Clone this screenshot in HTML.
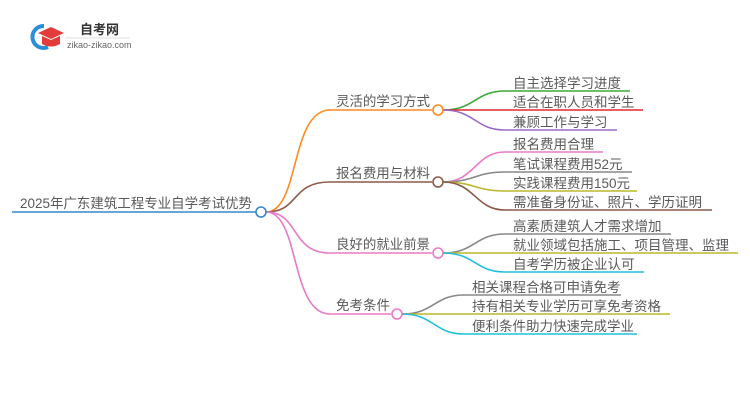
<!DOCTYPE html>
<html><head><meta charset="utf-8"><style>
html,body{margin:0;padding:0;background:#fff;width:750px;height:410px;overflow:hidden}
text{font-family:"Liberation Sans","Noto Sans CJK SC",sans-serif;font-size:13.5px;fill:#5a5a5a}
</style></head><body>
<svg width="750" height="410" viewBox="0 0 750 410" xmlns="http://www.w3.org/2000/svg">
<!-- logo -->
<path d="M44 26 A11 11 0 1 0 48 47" fill="none" stroke="#2a8fd8" stroke-width="4"/>
<polygon points="38,33 51,27 64,33 51,39" fill="#e23b3b"/>
<path d="M42 36 L42 44 Q51 49 60 44 L60 36 L51 40 Z" fill="#e23b3b"/>
<text x="80" y="34" style="font-size:13px;font-weight:bold;fill:#333">自考网</text>
<line x1="66" y1="38" x2="130" y2="38" stroke="#ddd"/>
<text x="67" y="48" style="font-size:9px;fill:#666">zikao-zikao.com</text>

<g fill="none" stroke-width="1.6">
<line x1="12" y1="212" x2="256" y2="212" stroke="#3a86c8"/>
<path d="M266 212 C300 212 290 110 330 110 L432 110" stroke="#ff8a1f"/>
<path d="M266 212 C300 212 290 182 330 182 L432 182" stroke="#8b5a4a"/>
<path d="M266 212 C300 212 290 253 330 253 L432 253" stroke="#e87ac8"/>
<path d="M266 212 C300 212 290 314 330 314 L391 314" stroke="#e87ac8"/>
<path d="M443 110 C475 110 475 91 505 91 L630 91" stroke="#3aaa35"/>
<path d="M443 110 L643 110" stroke="#e0282e"/>
<path d="M443 110 C475 110 475 130 505 130 L617 130" stroke="#9a6ac8"/>
<path d="M443 182 C475 182 475 152 505 152 L603 152" stroke="#e87ac8"/>
<path d="M443 182 C475 182 475 172 505 172 L632 172" stroke="#888"/>
<path d="M443 182 C475 182 475 191 505 191 L637 191" stroke="#b8b82a"/>
<path d="M443 182 C475 182 475 210 505 210 L712 210" stroke="#8b5a4a"/>
<path d="M443 253 C475 253 475 234 505 234 L671 234" stroke="#888"/>
<path d="M443 253 L738 253" stroke="#b8b82a"/>
<path d="M443 253 C475 253 475 272 505 272 L644 272" stroke="#1fc0d8"/>
<path d="M402 314 C434 314 434 295 464 295 L621 295" stroke="#888"/>
<path d="M402 314 L670 314" stroke="#b8b82a"/>
<path d="M402 314 C434 314 434 334 464 334 L637 334" stroke="#1fc0d8"/>
</g>
<g fill="#fff" stroke-width="1.6">
<circle cx="261" cy="212" r="5" stroke="#3a86c8"/>
<circle cx="438" cy="110" r="5" stroke="#ff8a1f"/>
<circle cx="438" cy="182" r="5" stroke="#8b5a4a"/>
<circle cx="438" cy="253" r="5" stroke="#e87ac8"/>
<circle cx="397" cy="314" r="5" stroke="#e87ac8"/>
</g>
<text x="20" y="208" textLength="232" lengthAdjust="spacingAndGlyphs">2025年广东建筑工程专业自学考试优势</text>
<text x="336" y="106" textLength="94">灵活的学习方式</text>
<text x="336" y="178" textLength="94">报名费用与材料</text>
<text x="336" y="249" textLength="94">良好的就业前景</text>
<text x="336" y="310" textLength="54">免考条件</text>
<text x="513" y="88">自主选择学习进度</text>
<text x="513" y="107">适合在职人员和学生</text>
<text x="513" y="127">兼顾工作与学习</text>
<text x="513" y="149">报名费用合理</text>
<text x="513" y="169">笔试课程费用52元</text>
<text x="513" y="188">实践课程费用150元</text>
<text x="513" y="207">需准备身份证、照片、学历证明</text>
<text x="513" y="231">高素质建筑人才需求增加</text>
<text x="513" y="250">就业领域包括施工、项目管理、监理</text>
<text x="513" y="269">自考学历被企业认可</text>
<text x="472" y="292">相关课程合格可申请免考</text>
<text x="472" y="311">持有相关专业学历可享免考资格</text>
<text x="472" y="331">便利条件助力快速完成学业</text>
</svg>
</body></html>
